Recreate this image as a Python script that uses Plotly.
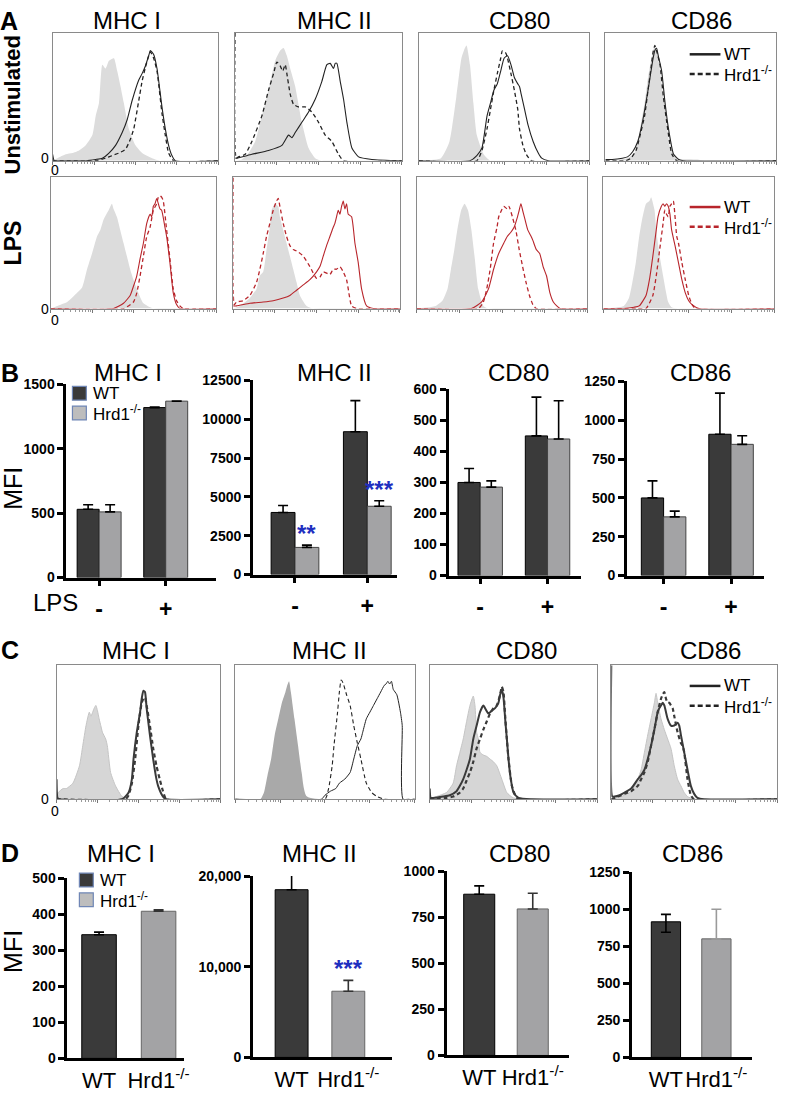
import math
import plotly.graph_objects as go

W, H = 785, 1093
FONT = "Liberation Sans, Arial, sans-serif"
RED = "#b8252b"
DARK = "#222222"

# ---------------- flow histograms (x: % of 4-decade log scale, y: % of max) ----------------
# A, unstimulated
A1_MHC1_ISO_X = [0, 3, 8, 12, 16, 20, 24, 26, 28, 30, 32, 34, 37, 39, 41, 43, 46, 50, 54, 60, 65, 100]
A1_MHC1_ISO_Y = [0, 2, 5, 6, 8, 12, 20, 35, 45, 75, 72, 78, 80, 70, 58, 45, 25, 12, 6, 2, 0, 0]
A1_MHC1_WT_X = [0, 1, 3, 20, 26, 30, 34, 38, 42, 45, 48, 52, 54, 56, 58, 59, 61, 63, 66, 68, 70, 72, 74, 100]
A1_MHC1_WT_Y = [5, 0, 0, 0, 1, 2, 6, 12, 22, 32, 47, 63, 68, 74, 82, 86, 83, 72, 42, 25, 12, 4, 0, 0]
A1_MHC1_KO_X = [0, 26, 32, 36, 40, 44, 47, 49, 52, 54, 56, 58, 59, 61, 63, 66, 68, 70, 73, 100]
A1_MHC1_KO_Y = [0, 0, 2, 4, 6, 9, 17, 25, 47, 62, 73, 82, 85, 80, 70, 37, 20, 6, 0, 0]

A1_MHC2_ISO_X = [0, 4, 8, 12, 16, 20, 24, 27, 29, 31, 33, 36, 40, 44, 48, 52, 100]
A1_MHC2_ISO_Y = [0, 1, 6, 15, 35, 55, 78, 86, 88, 82, 72, 58, 30, 10, 2, 0, 0]
A1_MHC2_WT_X = [0, 1, 10, 20, 28, 32, 34, 36, 40, 44, 48, 52, 55, 57, 59, 60, 61, 63, 65, 67, 70, 74, 82, 100]
A1_MHC2_WT_Y = [2, 2, 5, 8, 12, 20, 18, 22, 30, 38, 48, 62, 75, 76, 72, 76, 76, 62, 48, 30, 10, 3, 1, 0]
A1_MHC2_KO_X = [0, 0.6, 2, 6, 10, 16, 20, 23, 25, 27, 28.5, 30, 31, 33, 35, 38, 42, 46, 50, 54, 58, 62, 65, 100]
A1_MHC2_KO_Y = [100, 2, 3, 5, 15, 35, 55, 68, 77, 74, 70, 75, 68, 52, 44, 42, 42, 38, 30, 20, 15, 5, 0, 0]

A1_CD80_ISO_X = [0, 13, 18, 22, 25, 27, 28, 30, 32, 34, 38, 42, 100]
A1_CD80_ISO_Y = [0, 2, 15, 50, 80, 88, 90, 75, 45, 20, 5, 0, 0]
A1_CD80_WT_X = [0, 30, 34, 37, 40, 42, 44, 46, 48, 50, 52, 54, 56, 58, 59, 60, 62, 64, 67, 70, 72, 76, 100]
A1_CD80_WT_Y = [0, 0, 4, 10, 35, 45, 55, 60, 70, 80, 82, 75, 65, 60, 58, 52, 40, 28, 15, 6, 2, 0, 0]
A1_CD80_KO_X = [0, 34, 37, 40, 42, 44, 46, 48, 49, 51, 52, 54, 56, 58, 59, 61, 63, 66, 100]
A1_CD80_KO_Y = [0, 0, 8, 25, 40, 55, 68, 80, 86, 84, 80, 68, 55, 40, 25, 12, 5, 0, 0]

A1_CD86_ISO_X = [0, 13, 17, 19, 21, 23, 25, 27, 29, 31, 33, 35, 38, 42, 54, 58, 100]
A1_CD86_ISO_Y = [0, 2, 6, 15, 30, 45, 65, 80, 90, 80, 60, 40, 10, 2, 1, 0, 0]
A1_CD86_WT_X = [0, 4, 10, 13, 16, 19, 22, 25, 27, 28, 29, 30, 31, 33, 35, 37, 40, 43, 46, 100]
A1_CD86_WT_Y = [1, 1, 2, 3, 7, 15, 32, 55, 72, 80, 86, 88, 82, 70, 45, 25, 5, 1, 0, 0]
A1_CD86_KO_X = [0, 12, 15, 18, 20, 23, 25, 27, 28, 29, 30, 32, 34, 36, 39, 42, 100]
A1_CD86_KO_Y = [0, 0, 2, 8, 18, 35, 55, 75, 85, 90, 86, 75, 50, 30, 5, 0, 0]

# A, LPS
A2_MHC1_ISO_X = [0, 4, 10, 16, 19, 22, 25, 28, 30, 32, 35, 37, 38, 40, 42, 44, 46, 48, 50, 52, 56, 62, 100]
A2_MHC1_ISO_Y = [0, 2, 5, 12, 16, 30, 42, 55, 60, 68, 75, 80, 76, 70, 60, 50, 40, 30, 22, 15, 4, 0, 0]
A2_MHC1_WT_X = [0, 38, 44, 48, 50, 52, 54, 56, 58, 60, 61, 62, 63, 64, 66, 67, 69, 70, 72, 74, 76, 78, 100]
A2_MHC1_WT_Y = [0, 0, 4, 10, 17, 25, 38, 50, 65, 72, 70, 78, 80, 84, 76, 75, 62, 55, 35, 12, 3, 0, 0]
A2_MHC1_KO_X = [0, 44, 50, 52, 54, 56, 58, 60, 62, 64, 65, 66, 67, 68, 70, 72, 74, 76, 78, 80, 100]
A2_MHC1_KO_Y = [0, 0, 5, 12, 25, 40, 55, 62, 75, 80, 85, 86, 85, 82, 60, 38, 15, 6, 2, 0, 0]

A2_MHC2_ISO_X = [0, 4, 10, 14, 16, 18, 20, 22, 23, 25, 27, 28, 30, 32, 34, 36, 38, 40, 44, 48, 100]
A2_MHC2_ISO_Y = [0, 2, 8, 15, 25, 28, 45, 62, 75, 80, 78, 70, 60, 50, 40, 30, 20, 10, 2, 0, 0]
A2_MHC2_WT_X = [0, 2, 10, 18, 24, 30, 34, 38, 42, 46, 50, 52, 54, 56, 58, 60, 61, 62, 63, 64, 65, 66, 67, 68,
                69, 71, 73, 75, 77, 80, 84, 100]
A2_MHC2_WT_Y = [2, 2, 4, 5, 6, 8, 10, 14, 18, 22, 28, 32, 40, 48, 55, 62, 65, 70, 75, 72, 78, 82, 76, 80,
                72, 70, 50, 35, 15, 2, 0, 0]
A2_MHC2_KO_X = [0, 0.6, 2, 6, 10, 14, 16, 18, 20, 22, 24, 26, 27, 28, 30, 32, 34, 36, 38, 42, 46, 50, 52, 54,
                58, 60, 62, 64, 66, 68, 69, 71, 74, 100]
A2_MHC2_KO_Y = [100, 3, 5, 6, 10, 20, 30, 42, 55, 65, 75, 82, 84, 78, 65, 55, 48, 45, 44, 40, 32, 23, 24, 28,
                26, 30, 30, 32, 28, 22, 15, 2, 0, 0]

A2_CD80_ISO_X = [0, 11, 15, 18, 20, 22, 24, 26, 28, 30, 32, 34, 36, 39, 42, 100]
A2_CD80_ISO_Y = [0, 2, 6, 15, 30, 45, 62, 75, 80, 75, 60, 38, 15, 2, 0, 0]
A2_CD80_WT_X = [0, 32, 38, 42, 45, 48, 51, 53, 55, 57, 59, 60, 61, 62, 63, 65, 67, 68, 70, 72, 74, 76, 78, 80,
                82, 84, 100]
A2_CD80_WT_Y = [0, 0, 5, 15, 30, 42, 50, 55, 58, 62, 70, 75, 80, 75, 70, 60, 55, 52, 45, 42, 32, 25, 12, 5,
                2, 0, 0]
A2_CD80_KO_X = [0, 36, 39, 41, 43, 45, 47, 48, 50, 51, 53, 54, 56, 58, 60, 62, 64, 66, 68, 70, 100]
A2_CD80_KO_Y = [0, 0, 5, 15, 30, 50, 62, 70, 76, 78, 76, 78, 70, 60, 45, 32, 20, 10, 3, 0, 0]

A2_CD86_ISO_X = [0, 12, 15, 17, 19, 21, 23, 25, 27, 28, 30, 31, 33, 35, 38, 40, 44, 100]
A2_CD86_ISO_Y = [0, 2, 8, 20, 35, 55, 70, 80, 82, 85, 75, 60, 40, 25, 5, 1, 0, 0]
A2_CD86_WT_X = [0, 12, 18, 21, 25, 27, 29, 31, 32, 34, 35, 36, 37, 38, 39, 40, 42, 44, 46, 48, 50, 52, 56, 100]
A2_CD86_WT_Y = [0, 0, 1, 2, 10, 22, 40, 60, 70, 78, 80, 78, 80, 78, 72, 60, 48, 35, 22, 12, 6, 3, 0, 0]
A2_CD86_KO_X = [0, 20, 25, 29, 31, 33, 35, 36, 37, 38, 39, 40, 41, 42, 43, 44, 46, 48, 50, 52, 54, 100]
A2_CD86_KO_Y = [0, 0, 0, 10, 25, 45, 65, 75, 72, 70, 78, 80, 82, 70, 55, 50, 35, 22, 10, 3, 0, 0]

# C
C_MHC1_ISO_X = [0, 1, 4, 6, 10, 14, 16, 18, 20, 21, 23, 24, 25, 26, 27, 28, 30, 31, 33, 36, 40, 44, 100]
C_MHC1_ISO_Y = [0, 5, 8, 8, 12, 25, 40, 55, 65, 62, 68, 70, 66, 60, 55, 50, 45, 40, 20, 10, 2, 0, 0]
C_MHC1_WT_X = [0, 0.6, 2, 40, 44, 46, 47, 49, 51, 52, 53, 54, 55, 57, 59, 61, 62, 65, 67, 100]
C_MHC1_WT_Y = [15, 1, 0, 0, 5, 15, 30, 50, 65, 75, 81, 80, 68, 48, 30, 15, 10, 2, 0, 0]
C_MHC1_KO_X = [0, 42, 44, 46, 48, 50, 52, 53, 54, 55, 57, 59, 61, 63, 65, 67, 100]
C_MHC1_KO_Y = [0, 0, 3, 12, 30, 55, 72, 75, 76, 70, 55, 38, 25, 15, 6, 0, 0]

C_MHC2_ISO_X = [0, 14, 16, 18, 20, 22, 24, 26, 28, 29, 30, 31, 33, 35, 37, 40, 100]
C_MHC2_ISO_Y = [0, 0, 5, 18, 30, 48, 60, 72, 80, 85, 88, 80, 60, 40, 20, 2, 0]
C_MHC2_WT_X = [0, 48, 50, 53, 56, 58, 61, 64, 66, 68, 70, 71, 73, 75, 77, 79, 81, 83, 84, 85, 86, 87, 88, 90,
               92, 93, 93.5, 100]
C_MHC2_WT_Y = [0, 0, 3, 6, 8, 12, 15, 20, 30, 40, 45, 50, 60, 65, 70, 75, 80, 85, 86, 88, 86, 88, 82, 78,
               65, 55, 0, 0]
C_MHC2_KO_X = [0, 50, 52, 54, 55, 57, 58, 59, 60, 62, 64, 66, 68, 70, 73, 76, 79, 83, 100]
C_MHC2_KO_Y = [0, 0, 8, 25, 40, 65, 80, 89, 87, 78, 70, 55, 42, 30, 12, 5, 2, 0, 0]

C_CD80_ISO_X = [0, 4, 10, 14, 16, 18, 20, 22, 24, 26, 27, 28, 29, 30, 32, 34, 36, 38, 40, 43, 46, 50, 100]
C_CD80_ISO_Y = [0, 2, 5, 12, 25, 35, 45, 58, 70, 77, 70, 50, 45, 35, 33, 32, 30, 28, 25, 15, 5, 1, 0]
C_CD80_WT_X = [0, 0.6, 2, 8, 12, 16, 18, 20, 22, 24, 26, 28, 30, 32, 33, 35, 37, 39, 41, 42, 43, 44, 45, 46,
               47, 48, 50, 53, 100]
C_CD80_WT_Y = [8, 1, 1, 2, 3, 6, 10, 15, 22, 30, 45, 55, 65, 70, 68, 64, 66, 68, 72, 78, 82, 76, 60, 45,
               30, 18, 5, 1, 0]
C_CD80_KO_X = [0, 10, 14, 18, 20, 22, 24, 26, 28, 30, 32, 34, 36, 38, 40, 42, 43, 44, 45, 46, 47, 49, 51, 53, 100]
C_CD80_KO_Y = [0, 1, 2, 5, 8, 14, 20, 28, 38, 45, 52, 58, 64, 68, 70, 78, 84, 80, 62, 45, 30, 10, 3, 0, 0]

C_CD86_ISO_X = [0, 8, 12, 14, 16, 18, 20, 22, 24, 26, 27, 28, 30, 32, 34, 36, 38, 40, 42, 44, 46, 50, 100]
C_CD86_ISO_Y = [0, 3, 6, 10, 15, 22, 35, 48, 60, 72, 79, 72, 60, 52, 45, 38, 25, 15, 10, 5, 2, 0, 0]
C_CD86_WT_X = [0, 0.6, 2, 5, 8, 12, 16, 18, 20, 22, 24, 26, 28, 29, 30, 31, 32, 33, 34, 36, 38, 40, 41, 42,
               44, 46, 48, 50, 52, 56, 100]
C_CD86_WT_Y = [100, 2, 2, 3, 5, 8, 15, 18, 22, 30, 40, 52, 65, 68, 70, 72, 70, 65, 60, 55, 55, 57, 55, 48,
               35, 22, 10, 4, 1, 0, 0]
C_CD86_KO_X = [0, 4, 8, 12, 16, 18, 20, 22, 24, 26, 28, 30, 31, 32, 33, 34, 35, 36, 37, 38, 40, 42, 43, 44,
               46, 48, 50, 100]
C_CD86_KO_Y = [0, 2, 4, 6, 10, 15, 20, 28, 40, 52, 65, 75, 78, 80, 75, 72, 72, 70, 68, 62, 50, 42, 40, 35,
               15, 3, 0, 0]

# ---------------- MFI bar data ----------------
B_LPS = ["-", "+"]
B_MHC1_WT = [530, 1320]
B_MHC1_WT_ERR = [35, 5]
B_MHC1_KO = [510, 1370]
B_MHC1_KO_ERR = [55, 0]
B_MHC2_WT = [4000, 9200]
B_MHC2_WT_ERR = [450, 2000]
B_MHC2_KO = [1750, 4400]
B_MHC2_KO_ERR = [150, 350]
B_CD80_WT = [300, 450]
B_CD80_WT_ERR = [45, 125]
B_CD80_KO = [285, 440]
B_CD80_KO_ERR = [20, 123]
B_CD86_WT = [500, 910]
B_CD86_WT_ERR = [110, 265]
B_CD86_KO = [378, 845]
B_CD86_KO_ERR = [37, 55]
B_STARS = ["**", "***"]

D_GROUPS = ["WT", "Hrd1<sup>-/-</sup>"]
D_MHC1 = [343, 408]
D_MHC1_ERR = [7, 4]
D_MHC2 = [18500, 7300]
D_MHC2_ERR = [2000, 1200]
D_CD80 = [875, 795]
D_CD80_ERR = [45, 85]
D_CD86 = [915, 800]
D_CD86_ERR = [50, 200]
D_CD86_ERR_LOW = [70, 0]

MARKERS = ["MHC I", "MHC II", "CD80", "CD86"]

fig = go.Figure()
axis_n = [0]


def px_x(p):
    return p / W


def px_y(p):
    return 1 - p / H


def new_axes(xd, yd, xa, ya):
    axis_n[0] += 1
    n = axis_n[0]
    s = "" if n == 1 else str(n)
    xa = dict(xa, domain=[px_x(xd[0]), px_x(xd[1])], anchor="y" + s)
    ya = dict(ya, domain=[px_y(yd[1]), px_y(yd[0])], anchor="x" + s)
    fig.update_layout(**{"xaxis" + s: xa, "yaxis" + s: ya})
    return "x" + s, "y" + s


MAJOR = [0, 25, 50, 75, 100]
MINOR = [25 * d + 25 * math.log10(k) for d in range(4) for k in range(2, 10)]


def hist_panel(box, iso, wt, ko, color, iso_fill="#dcdcdc", iso_line=None, lw=1.1, dash_w=1.3):
    x0, x1, y0, y1 = box
    xa = dict(range=[0, 100], showline=True, mirror=True, linecolor="#8a8a8a", linewidth=1,
              showgrid=False, zeroline=False, showticklabels=False, ticks="outside",
              tickvals=MAJOR, ticklen=3, tickcolor="#777",
              minor=dict(tickvals=MINOR, ticks="outside", ticklen=2, tickcolor="#999"))
    ya = dict(range=[0, 100], showline=True, mirror=True, linecolor="#8a8a8a", linewidth=1,
              showgrid=False, zeroline=False, showticklabels=False, ticks="")
    xr, yr = new_axes((x0, x1), (y0, y1), xa, ya)
    fig.add_trace(go.Scatter(x=iso[0], y=iso[1], xaxis=xr, yaxis=yr, mode="lines", fill="tozeroy",
                             fillcolor=iso_fill, line=dict(color=iso_line or iso_fill, width=1 if iso_line else 0,
                                                           shape="spline", smoothing=0.5),
                             showlegend=False, hoverinfo="skip"))
    fig.add_trace(go.Scatter(x=ko[0], y=ko[1], xaxis=xr, yaxis=yr, mode="lines",
                             line=dict(color=color, width=dash_w, dash="4px,3px", shape="spline", smoothing=0.5),
                             showlegend=False))
    fig.add_trace(go.Scatter(x=wt[0], y=wt[1], xaxis=xr, yaxis=yr, mode="lines",
                             line=dict(color=color, width=lw, shape="spline", smoothing=0.5),
                             showlegend=False))


# panel A
A_COLS = [(53, 220), (237, 405), (422, 594), (610, 782)]
A1 = [
    ((A1_MHC1_ISO_X, A1_MHC1_ISO_Y), (A1_MHC1_WT_X, A1_MHC1_WT_Y), (A1_MHC1_KO_X, A1_MHC1_KO_Y)),
    ((A1_MHC2_ISO_X, A1_MHC2_ISO_Y), (A1_MHC2_WT_X, A1_MHC2_WT_Y), (A1_MHC2_KO_X, A1_MHC2_KO_Y)),
    ((A1_CD80_ISO_X, A1_CD80_ISO_Y), (A1_CD80_WT_X, A1_CD80_WT_Y), (A1_CD80_KO_X, A1_CD80_KO_Y)),
    ((A1_CD86_ISO_X, A1_CD86_ISO_Y), (A1_CD86_WT_X, A1_CD86_WT_Y), (A1_CD86_KO_X, A1_CD86_KO_Y)),
]
A2 = [
    ((A2_MHC1_ISO_X, A2_MHC1_ISO_Y), (A2_MHC1_WT_X, A2_MHC1_WT_Y), (A2_MHC1_KO_X, A2_MHC1_KO_Y)),
    ((A2_MHC2_ISO_X, A2_MHC2_ISO_Y), (A2_MHC2_WT_X, A2_MHC2_WT_Y), (A2_MHC2_KO_X, A2_MHC2_KO_Y)),
    ((A2_CD80_ISO_X, A2_CD80_ISO_Y), (A2_CD80_WT_X, A2_CD80_WT_Y), (A2_CD80_KO_X, A2_CD80_KO_Y)),
    ((A2_CD86_ISO_X, A2_CD86_ISO_Y), (A2_CD86_WT_X, A2_CD86_WT_Y), (A2_CD86_KO_X, A2_CD86_KO_Y)),
]
for (cx0, cx1), (iso, wt, ko) in zip(A_COLS, A1):
    hist_panel((cx0, cx1, 25, 155), iso, wt, ko, DARK)
for (cx0, cx1), (iso, wt, ko) in zip(A_COLS, A2):
    hist_panel((cx0 - 2, cx1 - 2, 172, 305), iso, wt, ko, RED)

# panel C
C_COLS = [(57, 222), (237, 418), (433, 602), (616, 783)]
C_SETS = [
    ((C_MHC1_ISO_X, C_MHC1_ISO_Y), (C_MHC1_WT_X, C_MHC1_WT_Y), (C_MHC1_KO_X, C_MHC1_KO_Y)),
    ((C_MHC2_ISO_X, C_MHC2_ISO_Y), (C_MHC2_WT_X, C_MHC2_WT_Y), (C_MHC2_KO_X, C_MHC2_KO_Y)),
    ((C_CD80_ISO_X, C_CD80_ISO_Y), (C_CD80_WT_X, C_CD80_WT_Y), (C_CD80_KO_X, C_CD80_KO_Y)),
    ((C_CD86_ISO_X, C_CD86_ISO_Y), (C_CD86_WT_X, C_CD86_WT_Y), (C_CD86_KO_X, C_CD86_KO_Y)),
]
for i, ((cx0, cx1), (iso, wt, ko)) in enumerate(zip(C_COLS, C_SETS)):
    if i == 1:
        hist_panel((cx0, cx1, 667, 803), iso, wt, ko, DARK, iso_fill="#a9a9a9", lw=1.0, dash_w=1.1)
    else:
        hist_panel((cx0, cx1, 667, 803), iso, wt, ko, "#3a3a3a", iso_fill="#d6d6d6", iso_line="#c4c4c4",
                   lw=2.0, dash_w=2.2)


# ---------------- bar panels ----------------
WT_COL = "#3a3a3a"
KO_COL = "#a3a3a5"


def bar_axes(xd, yd, xrange, top, dtick, ticktext, tickfont, standoff, xticks, tickformat="d"):
    xa = dict(range=xrange, showline=True, linecolor="black", linewidth=3, showgrid=False, zeroline=False,
              ticks=xticks, ticklen=5, tickwidth=2.5, tickcolor="black", tickvals=[0, 1],
              ticktext=ticktext, tickfont=tickfont, ticklabelstandoff=standoff)
    ya = dict(range=[0, top], showline=True, linecolor="black", linewidth=3, showgrid=False, zeroline=False,
              ticks="outside", ticklen=6, tickwidth=2.5, tickcolor="black", dtick=dtick, tickformat=tickformat,
              tickfont=dict(family=FONT, size=14, color="black", weight="bold"))
    return new_axes(xd, yd, xa, ya)


def err(up, low=None, color="black"):
    return dict(type="data", symmetric=False, array=up, arrayminus=low or [0] * len(up),
                color=color, thickness=1.6, width=5)


LPS_FONT = dict(family=FONT, size=23, color="black", weight="bold")
STAR_FONT = dict(family=FONT, size=24, color="#1f2fbf", weight="bold")
B_SPECS = [
    ((67, 218), (382, 578), [-0.49, 1.76], 1500, 500, B_MHC1_WT, B_MHC1_WT_ERR, B_MHC1_KO, B_MHC1_KO_ERR),
    ((255, 400), (378, 575), [-0.58, 1.41], 12500, 2500, B_MHC2_WT, B_MHC2_WT_ERR, B_MHC2_KO, B_MHC2_KO_ERR),
    ((452, 585), (387, 576), [-0.47, 1.49], 600, 100, B_CD80_WT, B_CD80_WT_ERR, B_CD80_KO, B_CD80_KO_ERR),
    ((632, 770), (379, 576), [-0.54, 1.49], 1250, 250, B_CD86_WT, B_CD86_WT_ERR, B_CD86_KO, B_CD86_KO_ERR),
]
for i, (xd, yd, xr_, top, dt, wt, wte, ko, koe) in enumerate(B_SPECS):
    xr, yr = bar_axes(xd, yd, xr_, top, dt, B_LPS, LPS_FONT, 4, "outside")
    fig.add_trace(go.Bar(x=[0, 1], y=wt, width=0.33, offset=-0.33, marker=dict(color=WT_COL, line=dict(color="black", width=1)),
                         error_y=err(wte), xaxis=xr, yaxis=yr, showlegend=False))
    fig.add_trace(go.Bar(x=[0, 1], y=ko, width=0.33, offset=0, marker=dict(color=KO_COL, line=dict(color="#444", width=1)),
                         error_y=err(koe), xaxis=xr, yaxis=yr, showlegend=False))
    if i == 1:
        for k, star in enumerate(B_STARS):
            fig.add_annotation(x=k + 0.165, y=ko[k] + koe[k], xref=xr, yref=yr, text=star, showarrow=False,
                               yanchor="bottom", yshift=-4, font=STAR_FONT)

GRP_FONT = dict(family=FONT, size=22, color="black")
D_SPECS = [
    ((68, 185), (883, 1066), [-0.53, 1.42], 500, 100, D_MHC1, D_MHC1_ERR, None, "d"),
    ((255, 395), (881, 1065), [-0.68, 1.77], 20000, 10000, D_MHC2, D_MHC2_ERR, None, ","),
    ((450, 573), (876, 1063), [-0.61, 1.67], 1000, 250, D_CD80, D_CD80_ERR, None, "d"),
    ((637, 758), (877, 1065), [-0.67, 1.71], 1250, 250, D_CD86, D_CD86_ERR, D_CD86_ERR_LOW, "d"),
]
for i, (xd, yd, xr_, top, dt, vals, up, low, fmt) in enumerate(D_SPECS):
    xr, yr = bar_axes(xd, yd, xr_, top, dt, D_GROUPS, GRP_FONT, 0, "", fmt)
    lows = low or [0, 0]
    fig.add_trace(go.Bar(x=[0], y=[vals[0]], width=0.58, offset=-0.29,
                         marker=dict(color=WT_COL, line=dict(color="black", width=1)),
                         error_y=err([up[0]], [lows[0]]), xaxis=xr, yaxis=yr, showlegend=False))
    fig.add_trace(go.Bar(x=[1], y=[vals[1]], width=0.58, offset=-0.29,
                         marker=dict(color=KO_COL, line=dict(color="#666", width=1)),
                         error_y=err([up[1]], [lows[1]], "#9a9a9a" if i == 3 else "#333"),
                         xaxis=xr, yaxis=yr, showlegend=False))
    if i == 1:
        fig.add_annotation(x=1, y=vals[1] + up[1], xref=xr, yref=yr, text="***", showarrow=False,
                           yanchor="bottom", yshift=-4, font=STAR_FONT)


# ---------------- text ----------------
def label(x, y, text, size=24, bold=False, angle=0, xanchor="center", color="black"):
    fig.add_annotation(x=px_x(x), y=px_y(y), xref="paper", yref="paper", text=text, showarrow=False,
                       xanchor=xanchor, yanchor="middle", textangle=angle,
                       font=dict(family=FONT, size=size, color=color, weight="bold" if bold else "normal"))


for name, cx in zip(MARKERS, [128, 337, 523, 707]):
    label(cx, 13, name)
for name, cx in zip(MARKERS, [129, 337, 522, 706]):
    label(cx, 370, name)
for name, cx in zip(MARKERS, [137, 332, 531, 716]):
    label(cx, 652, name)
for name, cx in zip(MARKERS, [122, 322, 524, 698]):
    label(cx, 858, name)

label(9, 13, "A", 25, True)
label(10, 370, "B", 25, True)
label(10, 652, "C", 25, True)
label(10, 858, "D", 25, True)
label(13, 98, "Unstimulated", 22, True, -90)
label(13, 238, "LPS", 23, True, -90)
label(13, 487, "MFI", 25, False, -90)
label(13, 957, "MFI", 25, False, -90)
label(56, 603, "LPS", 24)

for y in (152, 305, 803):
    label(45, y, "0", 14)
for y in (164, 317, 815):
    label(55, y, "0", 14)

# histogram legends
for (y1, y2), col in (((47, 67), DARK), ((202, 222), RED), ((688, 708), DARK)):
    fig.add_shape(type="line", xref="paper", yref="paper", x0=px_x(695), x1=px_x(726), y0=px_y(y1), y1=px_y(y1),
                  line=dict(color=col, width=2.5))
    fig.add_shape(type="line", xref="paper", yref="paper", x0=px_x(695), x1=px_x(726), y0=px_y(y2), y1=px_y(y2),
                  line=dict(color=col, width=2.5, dash="5px,3px"))
    label(728, y1, "WT", 17, xanchor="left")
    label(728, y2, "Hrd1<sup>-/-</sup>", 17, xanchor="left")

# bar legends
for (sx, y1, y2) in ((73, 391, 411), (80, 885, 905)):
    for y, c in ((y1, WT_COL), (y2, "#bdbdbd")):
        fig.add_shape(type="rect", xref="paper", yref="paper", x0=px_x(sx), x1=px_x(sx + 14),
                      y0=px_y(y - 7), y1=px_y(y + 7), fillcolor=c, line=dict(color="#6f86b5", width=1.2))
    label(sx + 19, y1, "WT", 17, xanchor="left")
    label(sx + 19, y2, "Hrd1<sup>-/-</sup>", 17, xanchor="left")

fig.update_layout(width=W, height=H, margin=dict(l=0, r=0, t=0, b=0), paper_bgcolor="white",
                  plot_bgcolor="white", barmode="overlay", showlegend=False)
fig.write_html("out.html", config={"displayModeBar": False},
               post_script="document.body.style.margin='0';")
